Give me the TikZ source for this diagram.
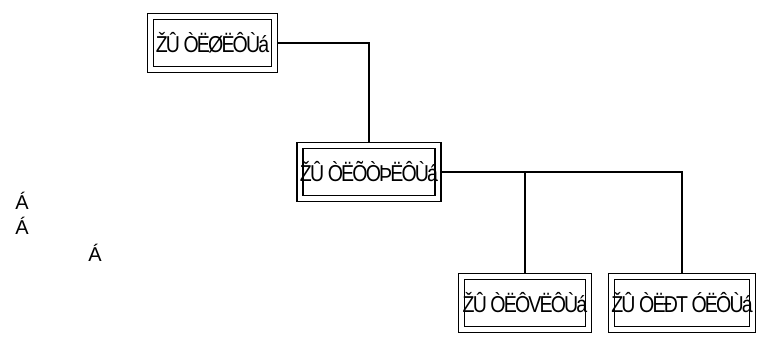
\documentclass[tikz,border=0pt]{standalone}
\usepackage{fontspec}
\setmainfont{Liberation Sans}
\newfontfamily\boxfont[FakeStretch=0.85,LetterSpace=-8]{Liberation Sans}
\begin{document}
\begin{tikzpicture}[x=1pt,y=-1pt,
  boxnode/.style={draw, double, double distance=4.5pt, line width=1.3pt,
    minimum width=#1, minimum height=53pt, inner sep=0pt, outer sep=3.5pt,
    font=\boxfont\fontsize{23}{23}\selectfont},
  conn/.style={line width=1.3pt},
  lbl/.style={inner sep=0pt, font=\fontsize{20}{20}\selectfont}]
\useasboundingbox (0,0) rectangle (757,342);
\node[boxnode=124pt] (top) at (212.5,43) {ŽÛ ÒËØËÔÙá};
\node[boxnode=125pt] (mid) at (369,172) {ŽÛ ÒËÕÒÞËÔÙá};
\node[boxnode=127pt] (bl) at (525,303) {ŽÛ ÒËÔVËÔÙá};
\node[boxnode=121pt] (br) at (682,303) {ŽÛ ÒËÐT ÓËÔÙá};
\coordinate (j) at (bl.north |- mid.east);
\draw[conn] (top.east) -| (mid.north);
\draw[conn] (mid.east) -| (bl.north);
\draw[conn] (j) -| (br.north);
\node[lbl] (a1) at (22,201) {Á};
\node[lbl] (a2) at (22,226) {Á};
\node[lbl] (a3) at (95,253) {Á};
\end{tikzpicture}
\end{document}
